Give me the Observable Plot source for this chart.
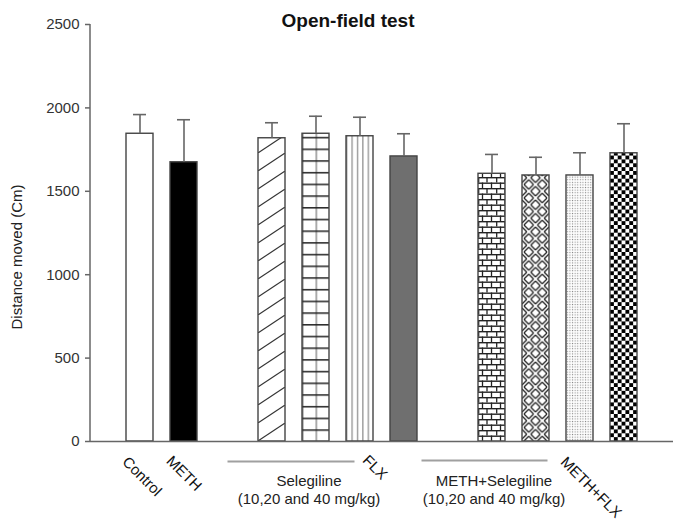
<!DOCTYPE html>
<html>
<head>
<meta charset="utf-8">
<script src="https://cdn.jsdelivr.net/npm/d3@7"></script>
<script src="https://cdn.jsdelivr.net/npm/@observablehq/plot@0.6"></script>
<style>
  html, body { margin: 0; padding: 0; background: #fff; }
  #chart svg { display: block; }
</style>
</head>
<body>
<div id="chart"></div>
<script>
// ---- data ----
const categories = ["Control", "METH", "Selegiline 10", "Selegiline 20", "Selegiline 40", "FLX",
  "METH+Selegiline 10", "METH+Selegiline 20", "METH+Selegiline 40", "METH+FLX"];
const means = [1845, 1674, 1818, 1845, 1830, 1709, 1605, 1595, 1595, 1728];
const sems  = [115, 255, 93, 105, 114, 136, 116, 109, 136, 177];
const patterns = ["blank", "solid", "diagonal", "grid", "vertical", "gray", "brick", "weave", "dots", "checker"];
const yTicks = [0, 500, 1000, 1500, 2000, 2500];
const title = "Open-field test";
const yLabel = "Distance moved (Cm)";
const groupLabels = ["Selegiline\n(10,20 and 40 mg/kg)", "METH+Selegiline\n(10,20 and 40 mg/kg)"];

// slot order with two empty spacer slots between groups
const slots = [categories[0], categories[1], "gap1",
  categories[2], categories[3], categories[4], categories[5], "gap2",
  categories[6], categories[7], categories[8], categories[9]];

const data = categories.map((c, i) => ({cat: c, mean: means[i], sem: sems[i], pattern: patterns[i]}));

const solidFills = {blank: "white", solid: "black", gray: "#6f6f6f"};
const fillFor = p => solidFills[p] || `url(#pat-${p})`;

// ---- pattern defs + axis line + group rules (render function mark) ----
function decor(index, scales, values, dims) {
  const xs = scales.x, ys = scales.y;
  const bw = typeof xs.bandwidth === "function" ? xs.bandwidth() : 27;
  const g = d3.create("svg:g");
  const defs = g.append("defs");
  const base = ys(0);
  const mk = (name, cat, w, h, draw) => {
    const p = defs.append("pattern").attr("id", "pat-" + name)
      .attr("patternUnits", "userSpaceOnUse")
      .attr("x", xs(cat)).attr("y", base)
      .attr("width", w).attr("height", h);
    p.append("rect").attr("width", w).attr("height", h).attr("fill", "white");
    draw(p, w, h);
  };
  const line = (p, x1, y1, x2, y2, stroke, sw) => p.append("line")
    .attr("x1", x1).attr("y1", y1).attr("x2", x2).attr("y2", y2)
    .attr("stroke", stroke).attr("stroke-width", sw);
  data.forEach(d => {
    switch (d.pattern) {
      case "diagonal":
        mk("diagonal", d.cat, bw, 18, (p, w, h) => line(p, 0, h, w, 0, "#333", 1.1));
        break;
      case "grid":
        mk("grid", d.cat, bw / 2, 11.7, (p, w, h) => {
          line(p, 0.8, 0, 0.8, h, "#888", 1.4);
          line(p, 0, 0.8, w, 0.8, "#222", 1.5);
        });
        break;
      case "vertical":
        mk("vertical", d.cat, bw / 5, 10, (p, w, h) => line(p, 0.7, 0, 0.7, h, "#888", 1.2));
        break;
      case "brick":
        mk("brick", d.cat, bw * 2 / 3, 11, (p, w, h) => {
          const hh = h / 2, q = w / 4;
          line(p, 0, 0.7, w, 0.7, "#222", 1.4);
          line(p, 0, hh + 0.7, w, hh + 0.7, "#222", 1.4);
          line(p, 0.7, 0, 0.7, hh, "#222", 1.3);
          line(p, 2 * q, 0, 2 * q, hh, "#222", 1.3);
          line(p, q, hh, q, h, "#222", 1.3);
          line(p, 3 * q, hh, 3 * q, h, "#222", 1.3);
        });
        break;
      case "weave":
        mk("weave", d.cat, bw / 2, bw / 2, (p, w, h) => {
          const q = w / 2;
          const back = (ox, oy) => {
            line(p, ox, oy + 2, ox + q - 2, oy + q, "#222", 1.3);
            line(p, ox + 2, oy, ox + q, oy + q - 2, "#222", 1.3);
          };
          const fwd = (ox, oy) => {
            line(p, ox, oy + q - 2, ox + q - 2, oy, "#222", 1.3);
            line(p, ox + 2, oy + q, ox + q, oy + 2, "#222", 1.3);
          };
          back(0, 0); back(q, q); fwd(q, 0); fwd(0, q);
        });
        break;
      case "dots":
        mk("dots", d.cat, 2.6, 2.6, (p) => p.append("rect").attr("x", 0.8).attr("y", 0.8)
          .attr("width", 1.1).attr("height", 1.1).attr("fill", "#8a8a8a"));
        break;
      case "checker":
        mk("checker", d.cat, bw / 3.5, bw / 3.5, (p, w, h) => {
          p.append("rect").attr("width", w / 2).attr("height", h / 2).attr("fill", "black");
          p.append("rect").attr("x", w / 2).attr("y", h / 2).attr("width", w / 2).attr("height", h / 2).attr("fill", "black");
        });
        break;
    }
  });
  // y axis line
  g.append("line").attr("x1", dims.marginLeft).attr("x2", dims.marginLeft)
    .attr("y1", ys(yTicks[yTicks.length - 1])).attr("y2", ys(0))
    .attr("stroke", "#666").attr("stroke-width", 1.5);
  // grey underline rules for the two drug groups
  const c = cat => xs(cat) + bw / 2;
  const ry = base + 20.5;
  g.append("line").attr("x1", c("gap1")).attr("x2", c(categories[4]) - 5)
    .attr("y1", ry).attr("y2", ry).attr("stroke", "#a0a0a0").attr("stroke-width", 2);
  g.append("line").attr("x1", c(categories[5]) + 18).attr("x2", c(categories[7]) + 12)
    .attr("y1", ry - 1).attr("y2", ry - 1).attr("stroke", "#a0a0a0").attr("stroke-width", 2);
  return g.node();
}

const font = "'Liberation Sans', Arial, Helvetica, sans-serif";
const rotLabel = (cat, dx, dy) => Plot.text([cat], {
  x: d => d, text: d => d, frameAnchor: "bottom", rotate: 45,
  textAnchor: "middle", lineAnchor: "middle", dx, dy, fontSize: 15, fill: "#111"
});
const groupText = (label, cat, dx) => Plot.text([label], {
  x: () => cat, text: d => d, frameAnchor: "bottom", textAnchor: "middle", lineAnchor: "middle",
  dx, dy: 48, lineHeight: 1.2, fontSize: 15, fill: "#222"
});

const chart = Plot.plot({
  width: 689,
  height: 521,
  marginLeft: 90,
  marginRight: 16,
  marginTop: 24,
  marginBottom: 80,
  style: {fontFamily: font, fontSize: "15px", background: "white", color: "#222"},
  x: {domain: slots, paddingInner: 0.387, paddingOuter: 0.81, axis: null},
  y: {domain: [0, 2500], axis: null},
  color: {type: "identity"},
  marks: [
    decor,
    Plot.barY(data, {x: "cat", y: "mean", fill: d => fillFor(d.pattern), stroke: "#444", strokeWidth: 1.4}),
    Plot.ruleX(data, {x: "cat", y1: "mean", y2: d => d.mean + d.sem, stroke: "#666", strokeWidth: 1.6}),
    Plot.tickY(data, {x: "cat", y: d => d.mean + d.sem, inset: 7, stroke: "#666", strokeWidth: 1.6}),
    Plot.ruleY([0], {stroke: "#666", strokeWidth: 1.5}),
    Plot.axisY(yTicks, {tickSize: 5, tickPadding: 6, tickFormat: d => String(d), stroke: "#666", strokeWidth: 1.5, fill: "#333", fontSize: 15, label: null}),
    Plot.text([yLabel], {text: d => d, frameAnchor: "left", textAnchor: "middle", lineAnchor: "middle", rotate: -90, dx: -73, dy: 24, fontSize: 15, fill: "#222"}),
    Plot.text([title], {text: d => d, frameAnchor: "top", textAnchor: "middle", lineAnchor: "middle", dx: -34, dy: -4, fontSize: 19, fontWeight: "bold", fill: "#111"}),
    rotLabel(categories[0], 2, 35),
    rotLabel(categories[1], 0, 32),
    rotLabel(categories[5], -29, 26),
    rotLabel(categories[9], -33, 46),
    groupText(groupLabels[0], categories[3], -7),
    groupText(groupLabels[1], categories[7], -42)
  ]
});
document.getElementById("chart").appendChild(chart);
</script>
</body>
</html>
